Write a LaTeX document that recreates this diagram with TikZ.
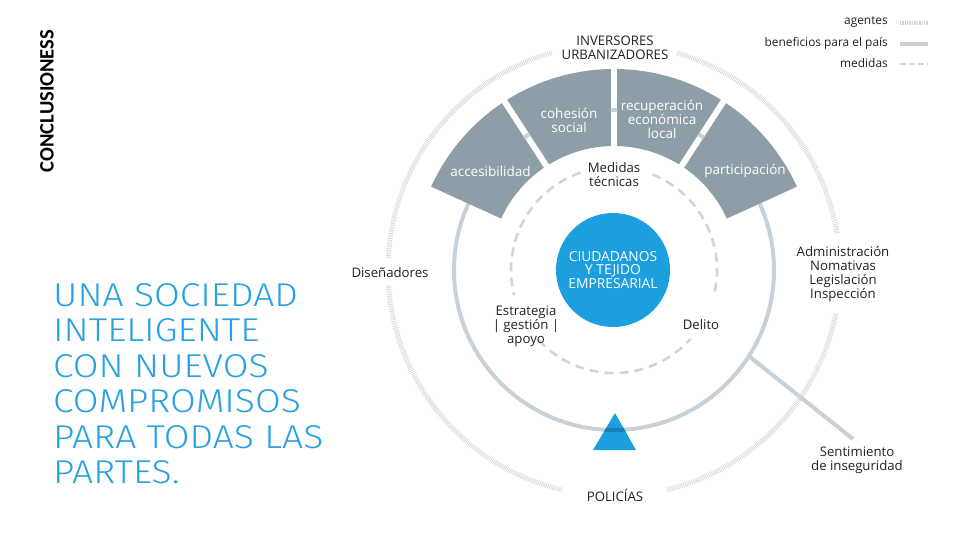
\documentclass[tikz,border=0pt]{standalone}
\usepackage{fontspec}
\setmainfont{Open Sans}
\newfontfamily\thinfont[FakeStretch=1.13]{Fira Sans Light}
\newfontfamily\calib{Carlito}
\definecolor{sectc}{HTML}{8E9EA9}
\definecolor{circc}{HTML}{C8D1D8}
\definecolor{dashc}{HTML}{D3D6D9}
\definecolor{dotc}{HTML}{CFD4D8}
\definecolor{bluec}{HTML}{1B9FDF}
\definecolor{titlec}{HTML}{2AA2DF}
\definecolor{bandc}{HTML}{1A7FB5}
\definecolor{txt}{HTML}{222222}
\tikzset{
  lbl/.style={font=\fontsize{13.2}{14}\selectfont, text=txt, align=center, inner sep=0pt},
  sectxt/.style={font=\fontsize{13.5}{13.8}\selectfont, text=white, align=center, inner sep=0pt},
  legtxt/.style={font=\fontsize{11.9}{12}\selectfont, text=txt, anchor=east, inner sep=0pt},
  agentline/.style={draw=dotc, line width=5pt, dash pattern=on 0.6pt off 1.1pt},
  benefline/.style={draw=circc, line width=4pt},
  medline/.style={draw=dashc, line width=2.6pt, dash pattern=on 9pt off 6pt},
  sector/.style={fill=sectc},
  gapline/.style={draw=white, line width=6pt},
}
\begin{document}
\begin{tikzpicture}[x=1pt,y=1pt]
\useasboundingbox (0,0) rectangle (960,-540);
\fill[white] (0,0) rectangle (960,-540);

% side title
\node[rotate=90, font=\calib\bfseries\fontsize{20.5}{22}\selectfont, text=black, inner sep=0pt] (concl) at (47,-101) {CONCLUSIONESS};
\node[anchor=north west, align=left, inner sep=0pt, text=titlec,
      font=\thinfont\fontsize{33}{35.5}\selectfont] (title) at (53,-283)
 {UNA SOCIEDAD\\INTELIGENTE\\CON NUEVOS\\COMPROMISOS\\PARA TODAS LAS\\PARTES.};

% legend
\node[legtxt] (lg1) at (888,-22) {agentes};
\node[legtxt] (lg2) at (888,-43) {beneficios para el país};
\node[legtxt] (lg3) at (888,-63) {medidas};
\coordinate (l1a) at (900,-23); \coordinate (l1b) at (928,-23);
\coordinate (l2a) at (900,-44); \coordinate (l2b) at (928,-44);
\coordinate (l3a) at (900,-64); \coordinate (l3b) at (928,-64);
\draw[dotc, line width=4pt, dash pattern=on 0.6pt off 1.1pt] (l1a) -- (l1b);
\draw[circc, line width=3.5pt] (l2a) -- (l2b);
\draw[dashc, line width=2.2pt, dash pattern=on 6pt off 3pt] (l3a) -- (l3b);

\begin{scope}[shift={(614,-270)}]
  % outer agents ring
  \draw[agentline] (9.4:226) arc[start angle=9.4,end angle=74,radius=226];
  \draw[agentline] (106:226) arc[start angle=106,end angle=177,radius=226];
  \draw[agentline] (184:226) arc[start angle=184,end angle=256.7,radius=226];
  \draw[agentline] (283.6:226) arc[start angle=283.6,end angle=349,radius=226];

  % benefits ring
  \draw[benefline] (0,0) circle[radius=160];
  \coordinate (s0) at (136,-87);
  \coordinate (s1) at (239,-169);
  \draw[benefline] (s0) -- (s1);

  % sectors
  \foreach \a/\b in {24.5/57,57/90,90/123,123/155.5}{
    \fill[sector] (\a:124) -- (\a:201) arc[start angle=\a,end angle=\b,radius=201]
      -- (\b:124) arc[start angle=\b,end angle=\a,radius=124] -- cycle;
  }
  \foreach \a in {57,90,123}{
    \draw[gapline] (\a:118) -- (\a:207);
    \draw[benefline] ({\a-1.2}:160) arc[start angle={\a-1.2},end angle={\a+1.2},radius=160];
  }

  % measures ring
  \draw[medline] (-12:103) arc[start angle=-12,end angle=71,radius=103];
  \draw[medline] (109:103) arc[start angle=109,end angle=194,radius=103];
  \draw[medline] (223:103) arc[start angle=223,end angle=318,radius=103];

  % centre
  \node[circle, fill=bluec, minimum size=114pt, inner sep=0pt, align=center,
        text=white, font=\fontsize{13.8}{13.8}\selectfont] (ciu) at (-1,0)
    {CIUDADANOS\\Y TEJIDO\\EMPRESARIAL};

  % police triangle
  \fill[bluec] (1,-143) -- (22,-180) -- (-21,-180) -- cycle;
  \begin{scope}
    \clip (1,-143) -- (22,-180) -- (-21,-180) -- cycle;
    \draw[bandc, line width=4pt] (0,0) circle[radius=160];
  \end{scope}
\end{scope}

% sector labels
\node[sectxt] (acc) at (490.5,-171) {accesibilidad};
\node[sectxt] (coh) at (569,-120) {cohesión\\social};
\node[sectxt] (rec) at (662,-119.5) {recuperación\\económica\\local};
\node[sectxt] (par) at (745,-171) {participación};

% other labels
\node[lbl] (inv) at (615,-48) {INVERSORES\\URBANIZADORES};
\node[lbl] (dis) at (390,-273) {Diseñadores};
\node[lbl] (adm) at (843,-274) {Administración\\Nomativas\\Legislación\\Inspección};
\node[lbl] (sent) at (857,-460) {Sentimiento\\de inseguridad};
\node[lbl] (pol) at (615,-495) {POLICÍAS};
\node[lbl] (med) at (614,-174.5) {Medidas\\técnicas};
\node[lbl] (est) at (526,-326) {Estrategia\\| gestión |\\apoyo};
\node[lbl] (del) at (701,-325) {Delito};
\end{tikzpicture}
\end{document}
